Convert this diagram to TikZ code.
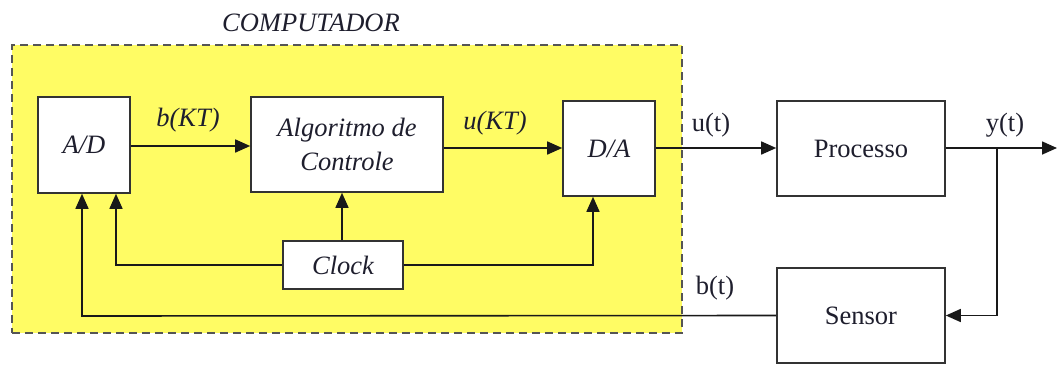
\documentclass[tikz,border=0pt]{standalone}
\usepackage{fontspec}
\setmainfont{Liberation Serif}
\usetikzlibrary{arrows.meta}
\definecolor{compyellow}{RGB}{255,252,100}
\definecolor{dashgray}{RGB}{85,85,85}
\definecolor{txtdark}{RGB}{30,30,45}
\tikzset{
  blk/.style={draw=black!80, line width=1.6pt, fill=white, inner sep=0pt, font=\fontsize{26.5}{34}\selectfont, text=txtdark, align=center},
  itblk/.style={blk, font=\fontsize{26.5}{34}\selectfont\itshape},
  conn/.style={line width=1.6pt, draw=black!90},
  arr/.style={conn, -{Triangle[length=15pt,width=13pt]}},
  lbl/.style={font=\fontsize{26.5}{30}\selectfont, text=txtdark, inner sep=0pt},
  itlbl/.style={lbl, font=\fontsize{26.5}{30}\selectfont\itshape},
}
\begin{document}
\begin{tikzpicture}[x=1pt,y=-1pt]
\useasboundingbox (0,0) rectangle (1058,365);
% computer region
\node[draw=dashgray, dashed, dash pattern=on 8pt off 5pt, line width=2.8pt, fill=compyellow, minimum width=670pt, minimum height=288pt, inner sep=0pt] (comp) at (347,189) {};
\node[itlbl] (comptxt) at (311,23) {COMPUTADOR};
% blocks
\node[itblk, minimum width=92pt, minimum height=96pt] (ad) at (84,145) {A/D};
\node[itblk, minimum width=192pt, minimum height=95pt] (alg) at (347,144.5) {Algoritmo de\\Controle};
\node[itblk, minimum width=92pt, minimum height=95pt] (da) at (609,148.5) {D/A};
\node[itblk, minimum width=120pt, minimum height=48pt] (clk) at (343,265) {Clock};
\node[blk, minimum width=168pt, minimum height=95pt] (proc) at (861,148.5) {Processo};
\node[blk, minimum width=168pt, minimum height=95pt] (sens) at (861,315.5) {Sensor};
\coordinate (out) at (1057,148);
\coordinate (br) at (997,148);
\coordinate (fbl) at (82,316);
% connectors
\draw[arr] (ad.east |- 0,146) -- (alg.west |- 0,146);
\draw[arr] (alg.east |- 0,148) -- (da.west |- 0,148);
\draw[arr] (da.east |- 0,148) -- (proc.west |- 0,148);
\draw[arr] (proc.east |- 0,148) -- (out);
\draw[arr] (br) |- (sens.east);
\draw[arr] (sens.west) -- (fbl) -- (fbl |- ad.south);
\draw[arr] (clk.west) -| ([xshift=32pt]ad.south);
\draw[arr] (clk.east) -| ([xshift=-16pt]da.south);
\draw[arr] (clk.north -| 342,0) -- (alg.south -| 342,0);
% labels
\node[itlbl] (lbkt) at (188,120) {b(KT)};
\node[itlbl] (lukt) at (495,123) {u(KT)};
\node[lbl] (lut) at (711,125) {u(t)};
\node[lbl] (lyt) at (1005,125) {y(t)};
\node[lbl] (lbt) at (715,288) {b(t)};
\end{tikzpicture}
\end{document}
